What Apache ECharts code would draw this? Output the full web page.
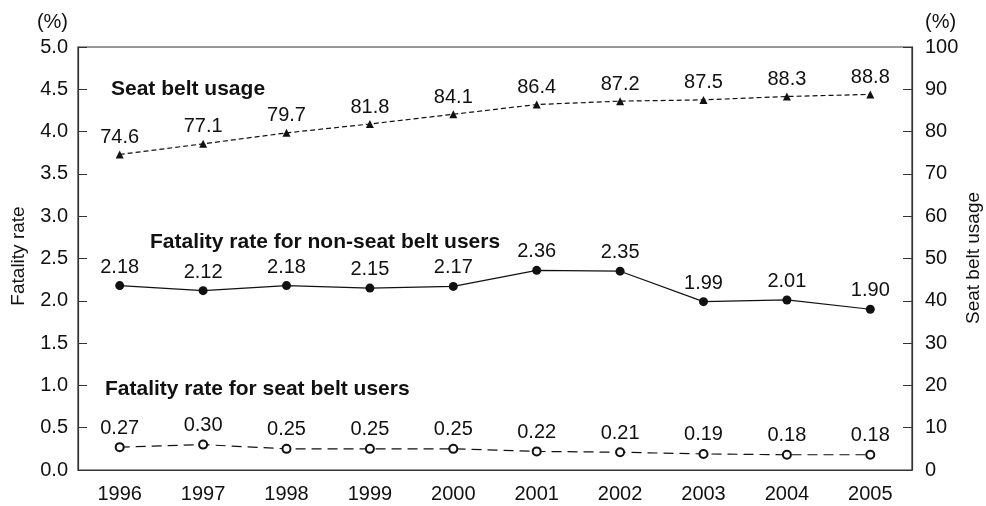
<!DOCTYPE html>
<html>
<head>
<meta charset="utf-8">
<script src="https://cdn.jsdelivr.net/npm/echarts@6/dist/echarts.min.js"></script>
<style>
  html, body { margin: 0; padding: 0; background: #fff; }
  #chart { width: 986px; height: 506px; }
</style>
</head>
<body>
<div id="chart"></div>
<script>
  // years on the x axis
  const years = ['1996', '1997', '1998', '1999', '2000', '2001', '2002', '2003', '2004', '2005'];
  // seat belt usage (%), right axis
  const beltUsage = [74.6, 77.1, 79.7, 81.8, 84.1, 86.4, 87.2, 87.5, 88.3, 88.8];
  // fatality rate for non-seat belt users (%), left axis
  const rateNonUsers = [2.18, 2.12, 2.18, 2.15, 2.17, 2.36, 2.35, 1.99, 2.01, 1.90];
  // fatality rate for seat belt users (%), left axis
  const rateUsers = [0.27, 0.30, 0.25, 0.25, 0.25, 0.22, 0.21, 0.19, 0.18, 0.18];

  const ink = '#111';
  const font = 'Liberation Sans, Arial, Helvetica, sans-serif';

  let chart = echarts.init(document.getElementById('chart'))
  chart.setOption({
    animation: false,
    textStyle: { fontFamily: font, color: ink },
    grid: {
      left: 78, right: 74, top: 47, bottom: 36,
      show: true, borderColor: '#333', borderWidth: 1.2
    },
    xAxis: {
      type: 'category',
      data: years,
      boundaryGap: true,
      axisLine: { lineStyle: { color: '#333', width: 1.2 } },
      axisTick: { inside: true, length: 10, lineStyle: { color: '#333' } },
      axisLabel: { fontSize: 20, color: ink, margin: 14, fontFamily: font }
    },
    yAxis: [
      {
        type: 'value', min: 0, max: 5, interval: 0.5,
        name: '(%)', nameLocation: 'end', nameGap: 15,
        nameTextStyle: { fontSize: 20, color: ink, align: 'right', padding: [0, 10, 0, 0] },
        axisLine: { show: true, lineStyle: { color: '#333', width: 1.2 } },
        axisTick: { show: true, inside: true, length: 9, lineStyle: { color: '#333' } },
        axisLabel: { fontSize: 20, color: ink, margin: 10, formatter: v => v.toFixed(1) },
        splitLine: { show: false }
      },
      {
        type: 'value', min: 0, max: 100, interval: 10,
        name: '(%)', nameLocation: 'end', nameGap: 15,
        nameTextStyle: { fontSize: 20, color: ink, align: 'left', padding: [0, 0, 0, 13] },
        axisLine: { show: true, lineStyle: { color: '#333', width: 1.2 } },
        axisTick: { show: true, inside: true, length: 9, lineStyle: { color: '#333' } },
        axisLabel: { fontSize: 20, color: ink, margin: 13 },
        splitLine: { show: false }
      }
    ],
    graphic: [
      { type: 'text', rotation: Math.PI / 2, x: 19, y: 256,
        style: { text: 'Fatality rate', font: '19px ' + font, fill: ink, align: 'center', verticalAlign: 'middle' } },
      { type: 'text', rotation: Math.PI / 2, x: 974, y: 258,
        style: { text: 'Seat belt usage', font: '19px ' + font, fill: ink, align: 'center', verticalAlign: 'middle' } },
      { type: 'text', x: 111, y: 89,
        style: { text: 'Seat belt usage', font: 'bold 21px ' + font, fill: ink, verticalAlign: 'middle' } },
      { type: 'text', x: 150, y: 242,
        style: { text: 'Fatality rate for non-seat belt users', font: 'bold 21px ' + font, fill: ink, verticalAlign: 'middle' } },
      { type: 'text', x: 105, y: 389,
        style: { text: 'Fatality rate for seat belt users', font: 'bold 21px ' + font, fill: ink, verticalAlign: 'middle' } }
    ],
    series: [
      {
        name: 'Seat belt usage', type: 'line', yAxisIndex: 1,
        data: beltUsage,
        symbol: 'triangle', symbolSize: 8,
        itemStyle: { color: ink },
        lineStyle: { color: ink, width: 1.2, type: [5, 3] },
        label: { show: true, position: 'top', distance: 3, fontSize: 20, color: ink, formatter: p => p.value.toFixed(1) }
      },
      {
        name: 'Fatality rate for non-seat belt users', type: 'line',
        data: rateNonUsers,
        symbol: 'circle', symbolSize: 9,
        itemStyle: { color: ink },
        lineStyle: { color: ink, width: 1.2 },
        label: { show: true, position: 'top', distance: 4, fontSize: 20, color: ink, formatter: p => p.value.toFixed(2) }
      },
      {
        name: 'Fatality rate for seat belt users', type: 'line',
        data: rateUsers,
        symbol: 'emptyCircle', symbolSize: 8,
        itemStyle: { color: ink, borderWidth: 1.2 },
        lineStyle: { color: ink, width: 1.2, type: [10, 6] },
        label: { show: true, position: 'top', distance: 4, fontSize: 20, color: ink, formatter: p => p.value.toFixed(2) }
      }
    ]
  })
</script>
</body>
</html>
